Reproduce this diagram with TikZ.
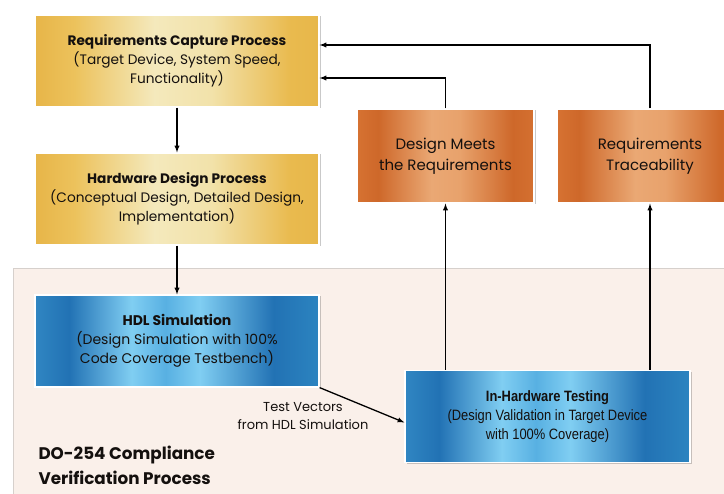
\documentclass[tikz,border=0pt]{standalone}
\usepackage{fontspec}
\setmainfont{Poppins}
\newfontfamily\arialfont[FakeStretch=0.86]{Liberation Sans}
\usetikzlibrary{shadows}

\definecolor{panelfill}{RGB}{250,240,234}
\definecolor{paneledge}{RGB}{214,208,204}
\definecolor{textcol}{RGB}{20,16,14}

\pgfdeclarehorizontalshading{goldshade}{100bp}{
  color(0bp)=(rgb,255:red,231;green,181;blue,72);
  color(25bp)=(rgb,255:red,231;green,181;blue,72);
  color(32bp)=(rgb,255:red,236;green,194;blue,92);
  color(46bp)=(rgb,255:red,244;green,233;blue,188);
  color(56bp)=(rgb,255:red,242;green,226;blue,170);
  color(70bp)=(rgb,255:red,233;green,186;blue,78);
  color(75bp)=(rgb,255:red,231;green,183;blue,74);
  color(100bp)=(rgb,255:red,231;green,183;blue,74)}
\pgfdeclarehorizontalshading{orangeshade}{100bp}{
  color(0bp)=(rgb,255:red,214;green,114;blue,50);
  color(25bp)=(rgb,255:red,214;green,114;blue,50);
  color(31bp)=(rgb,255:red,206;green,104;blue,42);
  color(46bp)=(rgb,255:red,234;green,168;blue,116);
  color(54bp)=(rgb,255:red,232;green,162;blue,108);
  color(69bp)=(rgb,255:red,206;green,104;blue,42);
  color(75bp)=(rgb,255:red,212;green,112;blue,48);
  color(100bp)=(rgb,255:red,212;green,112;blue,48)}
\pgfdeclarehorizontalshading{blueshade}{100bp}{
  color(0bp)=(rgb,255:red,48;green,134;blue,194);
  color(25bp)=(rgb,255:red,48;green,134;blue,194);
  color(31bp)=(rgb,255:red,34;green,114;blue,180);
  color(42bp)=(rgb,255:red,128;green,206;blue,242);
  color(48bp)=(rgb,255:red,88;green,176;blue,226);
  color(54bp)=(rgb,255:red,128;green,206;blue,242);
  color(67bp)=(rgb,255:red,34;green,114;blue,180);
  color(75bp)=(rgb,255:red,44;green,132;blue,192);
  color(100bp)=(rgb,255:red,44;green,132;blue,192)}

\tikzset{
  box/.style={draw=white, line width=1.2pt, align=center, text=textcol,
    inner sep=2pt, drop shadow={shadow xshift=1.5pt, shadow yshift=-1.5pt,
    opacity=0.35, fill=black!60}},
  goldbox/.style={box, shading=goldshade, minimum width=284pt, minimum height=92pt,
    font=\fontsize{13.7}{19}\selectfont},
  orangebox/.style={box, shading=orangeshade, minimum height=94pt,
    font=\fontsize{15}{21}\selectfont},
  bluebox/.style={box, shading=blueshade, minimum width=284pt, minimum height=92pt,
    font=\fontsize{14}{19}\selectfont},
}

\begin{document}
\begin{tikzpicture}[x=1pt,y=-1pt]
  \useasboundingbox (0,0) rectangle (724,494);
  \fill[white] (0,0) rectangle (724,494);
  \draw[paneledge, fill=panelfill, line width=1pt] (13,269) rectangle (760,530);

  \node[goldbox] (reqcap) at (177,61) {\textbf{Requirements Capture Process}\\(Target Device, System Speed,\\Functionality)};
  \node[goldbox] (hwdesign) at (177,199) {\textbf{Hardware Design Process}\\(Conceptual Design, Detailed Design,\\Implementation)};
  \node[bluebox] (hdlsim) at (177,341) {\textbf{HDL Simulation}\\(Design Simulation with 100\%\\Code Coverage Testbench)};
  \node[orangebox, minimum width=177pt] (meets) at (445.5,156) {Design Meets\\the Requirements};
  \node[orangebox, minimum width=186pt] (trace) at (650,156) {Requirements\\Traceability};
  \node[bluebox, minimum width=285pt, font=\arialfont\fontsize{15}{19}\selectfont] (hwtest) at (547.5,416.5) {\textbf{In-Hardware Testing}\\(Design Validation in Target Device\\with 100\% Coverage)};

  \node[align=center, text=textcol, font=\fontsize{13}{18}\selectfont] (vectors) at (303,416) {Test Vectors\\from HDL Simulation};
  \node[align=left, anchor=west, text=textcol, font=\bfseries\fontsize{16.8}{25}\selectfont] (title) at (35,465.5) {DO-254 Compliance\\Verification Process};

  \draw[->, >=latex, line width=1.3pt] (reqcap) -- (hwdesign);
  \draw[->, >=latex, line width=1.3pt] (hwdesign) -- (hdlsim);
  \draw[->, >=latex, line width=1.3pt] (hdlsim.south east) -- ([yshift=-6pt]hwtest.west);
  \draw[->, >=latex, line width=1.3pt] (hwtest.north -| meets) -- (meets);
  \draw[->, >=latex, line width=1.3pt] (hwtest.north -| trace) -- (trace);
  \draw[->, >=latex, line width=1.3pt] (meets.north) |- ([yshift=-17pt]reqcap.east);
  \draw[->, >=latex, line width=1.3pt] (trace.north) |- ([yshift=16pt]reqcap.east);
\end{tikzpicture}
\end{document}
